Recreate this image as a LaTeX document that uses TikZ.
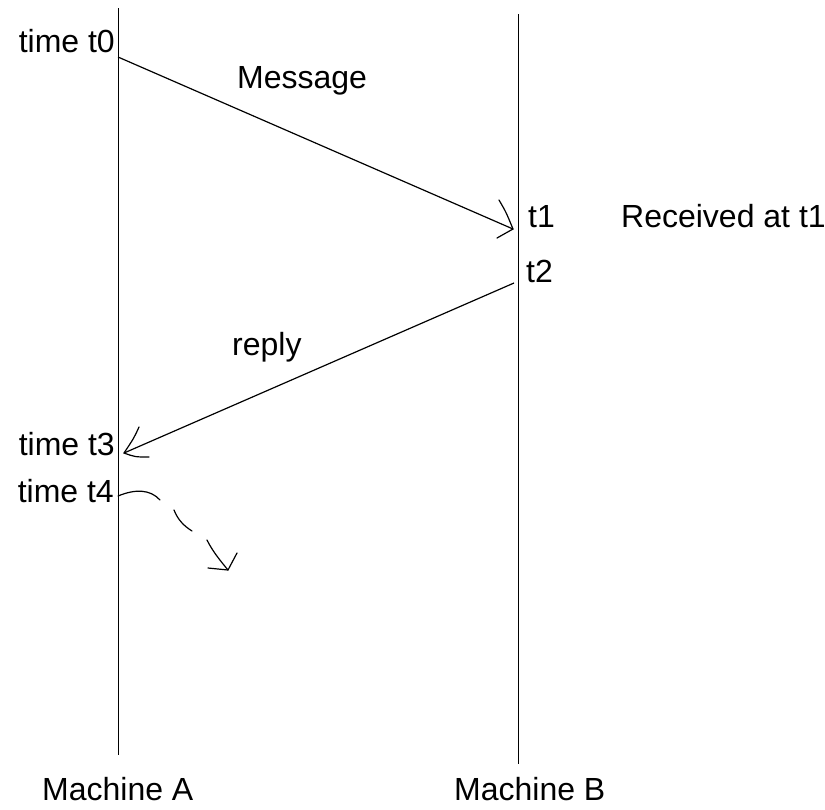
\documentclass[tikz,border=0pt]{standalone}
\usepackage{fontspec}
\setmainfont{Liberation Sans}
\begin{document}
\begin{tikzpicture}[x=1pt,y=-1pt,
  lbl/.style={inner sep=0pt,anchor=base west,font=\fontsize{32}{38}\selectfont},
  lblr/.style={lbl,anchor=base east},
  life/.style={line width=1pt},
  msg/.style={line width=1.2pt},
  tipstroke/.style={line width=1.2pt,line cap=round}]
\useasboundingbox (0,0) rectangle (825,809);

% lifelines
\coordinate (Atop) at (118,8);
\coordinate (Abot) at (118,755);
\coordinate (Btop) at (518,14);
\coordinate (Bbot) at (518,764);
\draw[life] (Atop) -- (Abot);
\draw[life] (Btop) -- (Bbot);

% message A -> B
\coordinate (m0) at (118,57);
\coordinate (m1) at (513,229);
\coordinate (m1a) at (499,200);
\coordinate (m1b) at (497,238);
\draw[msg] (m0) -- (m1);
\draw[tipstroke] (m1a) .. controls (506,212) .. (m1) -- (m1b);

% reply B -> A
\coordinate (r0) at (514,283);
\coordinate (r1) at (124,453);
\coordinate (r1a) at (139,427);
\coordinate (r1b) at (149,457);
\draw[msg] (r0) -- (r1);
\draw[tipstroke] (r1a) .. controls (134,438) .. (r1) .. controls (135,457) .. (r1b);

% continuation after t4
\coordinate (c0) at (118,496);
\coordinate (c1) at (228,570);
\draw[tipstroke] (c0) .. controls (135,489) and (150,489) .. (160,500);
\draw[tipstroke] (174,510) .. controls (178,520) and (184,526) .. (192,531);
\draw[tipstroke] (207,540) .. controls (212,550) and (218,558) .. (c1);
\draw[tipstroke] (237,553) -- (c1) -- (208,568);

% labels
\node[lblr] (t0) at (115,52) {time t0};
\node[lbl] (msglbl) at (237,88) {Message};
\node[lbl] (t1) at (528,227) {t1};
\node[lbl] (recv) at (621,227) {Received at t1};
\node[lbl] (t2) at (526,282) {t2};
\node[lbl] (replbl) at (232,355) {reply};
\node[lblr] (t3) at (115,455) {time t3};
\node[lblr] (t4) at (114,502) {time t4};
\node[lbl] (ma) at (42,800) {Machine A};
\node[lbl] (mb) at (454,800) {Machine B};
\end{tikzpicture}
\end{document}
